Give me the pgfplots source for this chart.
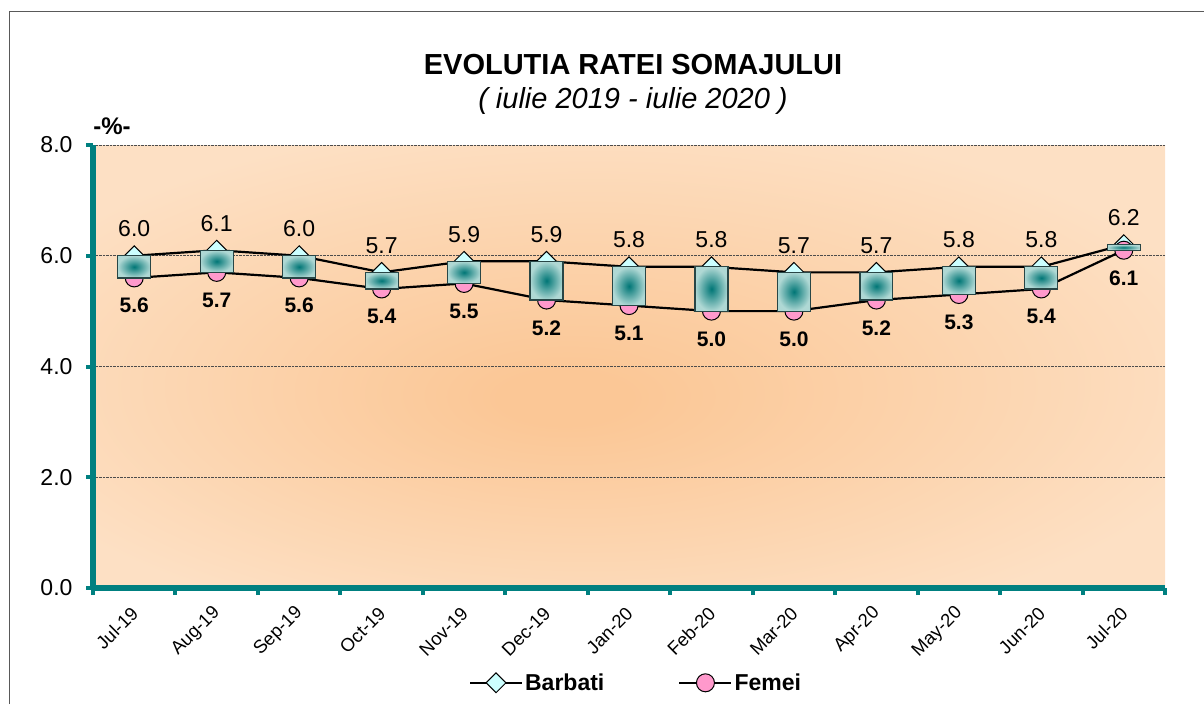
\documentclass[border=0pt]{standalone}
\usepackage{fontspec}
\setmainfont{Liberation Sans}
\usepackage{pgfplots}
\pgfplotsset{compat=1.18}
\usepackage{pgfplotstable}

\definecolor{axteal}{RGB}{0,128,128}
\definecolor{bgin}{RGB}{251,199,150}
\definecolor{bgout}{RGB}{253,224,196}
\definecolor{boxin}{RGB}{0,118,118}
\definecolor{boxout}{RGB}{175,216,212}
\definecolor{boxedge}{RGB}{40,70,70}
\definecolor{barb}{RGB}{204,255,255}
\definecolor{fem}{RGB}{255,153,204}
\pgfdeclareradialshading{bgshade}{\pgfpoint{-3.2bp}{-3.8bp}}{color(0bp)=(bgin); color(3bp)=(bgin); color(30bp)=(bgout); color(50bp)=(bgout)}
\pgfdeclareradialshading{boxshade}{\pgfpoint{0bp}{0bp}}{color(0bp)=(boxin); color(25bp)=(boxout); color(50bp)=(boxout)}

\pgfplotstableread{
x b f
0 6.0 5.6
1 6.1 5.7
2 6.0 5.6
3 5.7 5.4
4 5.9 5.5
5 5.9 5.2
6 5.8 5.1
7 5.8 5.0
8 5.7 5.0
9 5.7 5.2
10 5.8 5.3
11 5.8 5.4
12 6.2 6.1
}\data

\begin{document}
\begin{tikzpicture}
\useasboundingbox (0pt,0pt) rectangle (1204pt,704pt);
\draw[gray!70!black, line width=1pt] (9pt,0pt) -- (9pt,692pt) -- (1204pt,692pt);
\node[font=\bfseries\fontsize{29}{29}\selectfont] at (633pt,639pt) {EVOLUTIA RATEI SOMAJULUI};
\node[font=\itshape\fontsize{29}{29}\selectfont] at (633pt,603pt) {( iulie 2019 - iulie 2020 )};
\node[font=\bfseries\fontsize{24}{24}\selectfont] at (112pt,578pt) {-\%-};
\begin{axis}[
  at={(93pt,116pt)}, anchor=south west,
  scale only axis, width=1072pt, height=443pt,
  xmin=-0.5, xmax=12.5, ymin=0, ymax=8,
  clip marker paths=true,
  axis x line*=bottom, axis y line*=left,
  axis line style={axteal, line width=6pt, -},
  axis background/.style={shade, shading=bgshade},
  /pgf/number format/assume math mode=true,
  /pgf/number format/.cd, fixed, fixed zerofill, precision=1, /pgfplots/.cd,
  tick align=outside,
  major tick length=7pt,
  every tick/.style={axteal, line width=4pt},
  xtick={-0.5,0.5,...,12.5},
  xticklabels={},
  extra x ticks={0,1,...,12},
  extra x tick labels={Jul-19,Aug-19,Sep-19,Oct-19,Nov-19,Dec-19,Jan-20,Feb-20,Mar-20,Apr-20,May-20,Jun-20,Jul-20},
  extra x tick style={tick style={draw=none}},
  xticklabel style={xshift=3pt, yshift=-13pt, rotate=45, anchor=east, font=\fontsize{18.5}{18.5}\selectfont},
  ytick={0,2,4,6,8},
  yticklabel style={font=\fontsize{23}{23}\selectfont, xshift=-10pt},
  ymajorgrids,
  major grid style={densely dotted, gray!60!black, line width=0.8pt},
  legend style={at={(rel axis cs:0.5065,-0.214)}, anchor=center, draw=none, fill=none,
    legend columns=2, font=\bfseries\fontsize{23}{23}\selectfont,
    /tikz/every even column/.append style={column sep=72pt}},
  legend image code/.code={\draw[mark repeat=2,mark phase=2,#1] plot coordinates {(0pt,0pt) (26pt,0pt) (52pt,0pt)};},
]
\addplot[black, line width=2.2pt, mark=square*, mark size=7pt,
  mark options={rotate=45, fill=barb, draw=black, line width=1pt},
  nodes near coords,
  nodes near coords style={anchor=base, yshift=19pt, font=\fontsize{23}{23}\selectfont, text=black}]
  table[x=x, y=b] {\data};
\addlegendentry{Barbati}
\addplot[black, line width=2.2pt, mark=*, mark size=9pt,
  mark options={fill=fem, draw=black, line width=1pt},
  nodes near coords,
  nodes near coords style={anchor=base, yshift=-35pt, font=\bfseries\fontsize{21}{21}\selectfont, text=black}]
  table[x=x, y=f] {\data};
\addlegendentry{Femei}
\pgfplotsset{boxst/.style={draw=boxedge, line width=1.2pt, shade, shading=boxshade, forget plot}}
\addplot[boxst] coordinates {(-0.2,5.6) (0.2,5.6) (0.2,6.0) (-0.2,6.0)} --cycle;
\addplot[boxst] coordinates {(0.8,5.7) (1.2,5.7) (1.2,6.1) (0.8,6.1)} --cycle;
\addplot[boxst] coordinates {(1.8,5.6) (2.2,5.6) (2.2,6.0) (1.8,6.0)} --cycle;
\addplot[boxst] coordinates {(2.8,5.4) (3.2,5.4) (3.2,5.7) (2.8,5.7)} --cycle;
\addplot[boxst] coordinates {(3.8,5.5) (4.2,5.5) (4.2,5.9) (3.8,5.9)} --cycle;
\addplot[boxst] coordinates {(4.8,5.2) (5.2,5.2) (5.2,5.9) (4.8,5.9)} --cycle;
\addplot[boxst] coordinates {(5.8,5.1) (6.2,5.1) (6.2,5.8) (5.8,5.8)} --cycle;
\addplot[boxst] coordinates {(6.8,5.0) (7.2,5.0) (7.2,5.8) (6.8,5.8)} --cycle;
\addplot[boxst] coordinates {(7.8,5.0) (8.2,5.0) (8.2,5.7) (7.8,5.7)} --cycle;
\addplot[boxst] coordinates {(8.8,5.2) (9.2,5.2) (9.2,5.7) (8.8,5.7)} --cycle;
\addplot[boxst] coordinates {(9.8,5.3) (10.2,5.3) (10.2,5.8) (9.8,5.8)} --cycle;
\addplot[boxst] coordinates {(10.8,5.4) (11.2,5.4) (11.2,5.8) (10.8,5.8)} --cycle;
\addplot[boxst] coordinates {(11.8,6.1) (12.2,6.1) (12.2,6.2) (11.8,6.2)} --cycle;
\end{axis}
\end{tikzpicture}
\end{document}
